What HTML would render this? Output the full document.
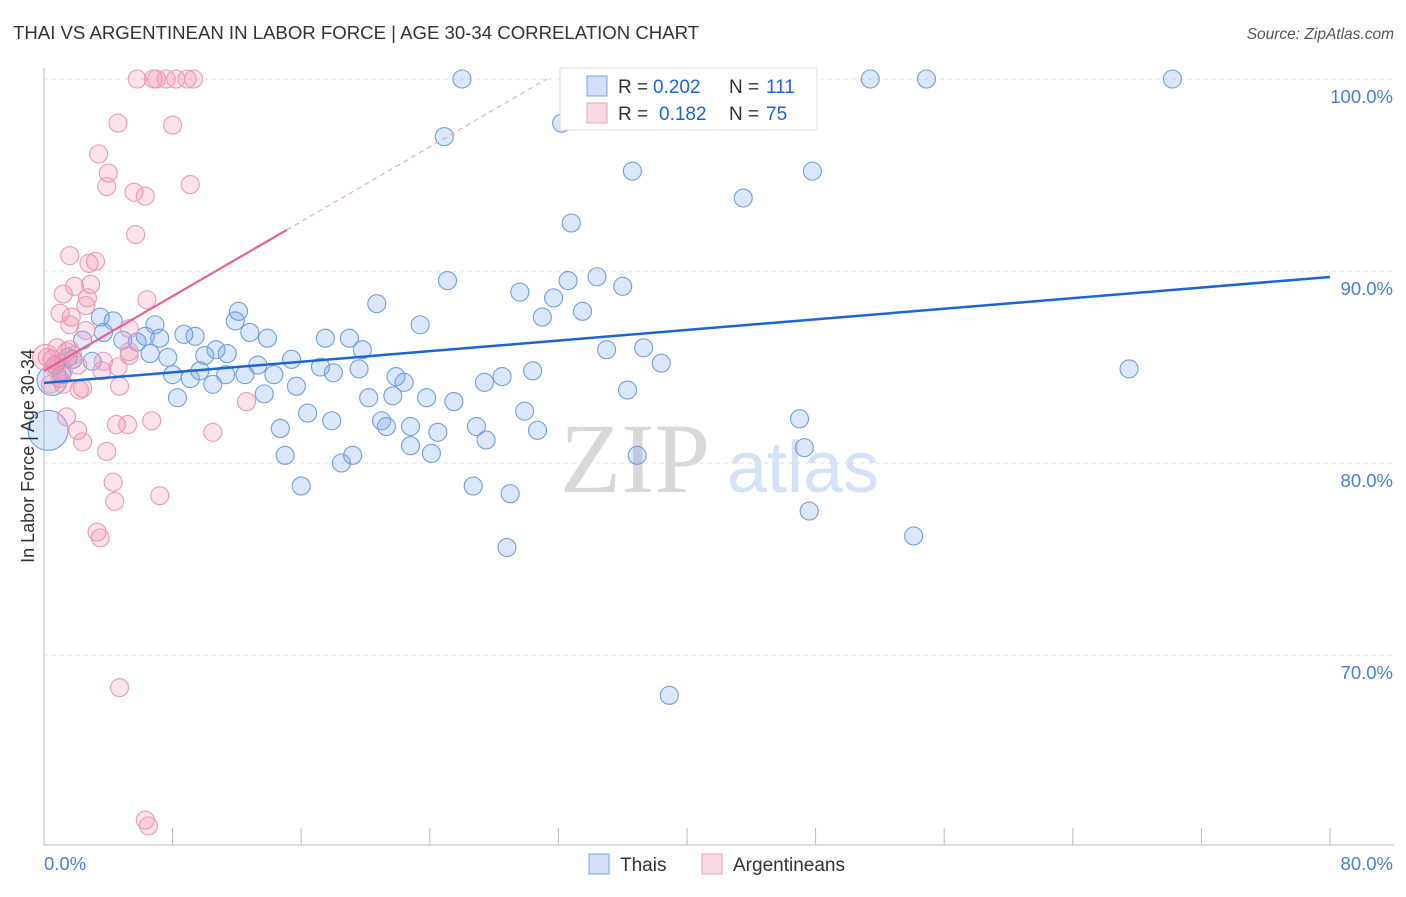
<!DOCTYPE html>
<html><head><meta charset="utf-8"><style>
body{margin:0;background:#fff;font-family:"Liberation Sans",sans-serif}
</style></head><body>
<svg id="chart" width="1406" height="892" xmlns="http://www.w3.org/2000/svg" font-family="Liberation Sans, sans-serif">
<text x="13" y="39" font-size="18.6" fill="#333">THAI VS ARGENTINEAN IN LABOR FORCE | AGE 30-34 CORRELATION CHART</text>
<text x="1394" y="39" font-size="15.5" fill="#555" text-anchor="end" font-style="italic">Source: ZipAtlas.com</text>
<text x="635" y="492" font-size="100" fill="#d8d8d8" font-family="Liberation Serif, serif" text-anchor="middle">ZIP</text>
<text x="803" y="492" font-size="72" fill="#d3e2f6" text-anchor="middle">atlas</text>
<g id="grid"></g>
<g id="axes"></g>
<g id="pts"></g>
<g id="lines"></g>
<text transform="translate(34,456) rotate(-90)" font-size="18" fill="#333" text-anchor="middle">In Labor Force | Age 30-34</text>
<g>
<rect x="560" y="68" width="257" height="62" fill="#fff" stroke="#ddd"/>
<rect x="587" y="76" width="20" height="20" fill="rgba(100,150,230,0.3)" stroke="#7aa6e6"/>
<text x="618" y="93" font-size="19" fill="#333">R =</text>
<text x="653" y="93" font-size="19" fill="#1a66d6">0.202</text>
<text x="729" y="93" font-size="19" fill="#333">N =</text>
<text x="766" y="93" font-size="19" fill="#1a66d6">111</text>
<rect x="587" y="103" width="20" height="20" fill="rgba(240,130,160,0.3)" stroke="#eea0b8"/>
<text x="618" y="120" font-size="19" fill="#333">R =</text>
<text x="659" y="120" font-size="19" fill="#1a66d6">0.182</text>
<text x="729" y="120" font-size="19" fill="#333">N =</text>
<text x="766" y="120" font-size="19" fill="#1a66d6">75</text>
</g>
<g>
<rect x="589" y="854" width="20" height="20" fill="rgba(100,150,230,0.3)" stroke="#7aa6e6"/>
<text x="620" y="871" font-size="19" fill="#333">Thais</text>
<rect x="702" y="854" width="20" height="20" fill="rgba(240,130,160,0.3)" stroke="#eea0b8"/>
<text x="733" y="871" font-size="19" fill="#333">Argentineans</text>
</g>
</svg>
<script>
const yTicks=[100,90,80,70];
const xTicks=[0,8,16,24,32,40,48,56,64,72,80];
const blueX=[26.0,41.6,51.4,54.9,70.2,24.9,32.2,36.6,47.8,43.5,32.8,25.1,34.4,32.6,36.0,29.6,31.7,20.7,31.0,33.5,23.4,12.1,11.9,6.9,4.3,3.5,12.8,13.9,8.7,9.4,6.3,4.9,7.2,2.4,3.7,5.8,17.5,19.0,19.8,35.0,37.3,10.7,10.0,11.4,6.6,7.7,3.0,1.8,1.5,15.4,13.3,9.7,11.3,12.5,14.3,17.2,18.0,19.6,21.9,22.4,8.0,9.1,10.5,15.7,13.7,8.3,20.2,21.7,23.8,25.5,27.4,28.5,30.4,36.3,38.4,67.5,16.4,17.9,21.0,21.3,22.8,24.5,26.9,27.5,29.9,30.7,22.8,24.1,14.7,15.0,36.9,47.0,47.3,19.2,18.5,16.0,26.7,29.0,47.6,54.1,28.8,38.9,0.5,0.25,0.7,1.1];
const blueY=[100,100,100,100,100,97.0,97.7,95.2,95.2,93.8,92.5,89.5,89.7,89.5,89.2,88.9,88.6,88.3,87.6,87.9,87.2,87.9,87.4,87.2,87.4,87.6,86.8,86.5,86.7,86.6,86.6,86.4,86.5,86.4,86.8,86.3,86.5,86.5,85.9,85.9,86.0,85.9,85.6,85.7,85.7,85.5,85.3,85.4,85.5,85.4,85.1,84.8,84.6,84.6,84.6,85.0,84.7,84.9,84.5,84.2,84.6,84.4,84.1,84.0,83.6,83.4,83.4,83.5,83.4,83.2,84.2,84.5,84.8,83.8,85.2,84.9,82.6,82.2,82.2,81.9,81.9,81.6,81.9,81.2,82.7,81.7,80.9,80.5,81.8,80.4,80.4,82.3,80.8,80.4,80.0,78.8,78.8,78.4,77.5,76.2,75.6,67.9,84.3,81.7,85.1,84.6];
const pinkX=[5.8,6.8,7.0,7.6,8.2,8.9,9.3,4.6,8.0,3.4,4.0,3.9,9.1,5.6,6.3,5.7,1.6,3.2,2.8,1.9,2.9,1.2,2.7,6.4,2.6,1.0,1.7,1.6,5.3,0.8,1.4,0.2,0.5,0.6,1.2,2.1,3.7,5.3,3.6,4.6,1.0,1.2,2.4,4.7,2.2,12.6,1.4,2.1,2.4,4.5,5.2,6.7,10.5,3.9,4.3,7.2,4.4,3.3,3.5,4.7,6.3,6.5,0.1,0.4,1.6,0.9,1.8,2.6,5.3];
const pinkY=[100,100,100,100,100,100,100,97.7,97.6,96.1,95.1,94.4,94.5,94.1,93.9,91.9,90.8,90.5,90.4,89.2,89.3,88.8,88.6,88.5,88.2,87.8,87.6,87.2,87.0,86.0,85.8,85.5,85.4,85.0,84.8,85.1,85.3,85.8,84.8,85.0,84.4,84.1,83.9,84.0,83.8,83.2,82.4,81.7,81.1,82.0,82.0,82.2,81.6,80.6,79.0,78.3,78.0,76.4,76.1,68.3,61.4,61.1,85.5,84.1,85.9,85.2,85.6,86.9,85.6];
const blueTrend=[84.17,89.69];
const pinkTrend=[84.8,0.486];
const NS="http://www.w3.org/2000/svg";
const X0=44,X1=1330,Y100=79,PX10=192;
const sx=v=>X0+(v/80)*(X1-X0);
const sy=v=>Y100+(100-v)*PX10/10;
function mk(tag,attrs,parent){const e=document.createElementNS(NS,tag);for(const k in attrs)e.setAttribute(k,attrs[k]);parent.appendChild(e);return e;}
const grid=document.getElementById('grid'),axes=document.getElementById('axes'),pts=document.getElementById('pts'),lines=document.getElementById('lines');
yTicks.forEach(t=>{
 const l=mk('line',{x1:X0,x2:1394,y1:sy(t),y2:sy(t),stroke:'#ddd','stroke-dasharray':'4,4'},grid);
 
 
 const tx=mk('text',{x:1393,y:sy(t)+24,'font-size':18.5,fill:'#4a7fd4','text-anchor':'end'},axes);
 tx.textContent=t.toFixed(1)+'%';
 
 
});
const ya=mk('line',{x1:X0,x2:X0,y1:68,y2:845,stroke:'#bbb'},axes);


const xa=mk('line',{x1:X0,x2:1394,y1:845,y2:845,stroke:'#bbb'},axes);


xTicks.forEach(t=>{
 const l=mk('line',{x1:sx(t),x2:sx(t),y1:828,y2:845,stroke:'#bbb'},axes);
 
 
});
[[0,'start',44],[80,'end',1393]].forEach(([v,a,x])=>{
 const tx=mk('text',{x:x,y:870,'font-size':18.5,fill:'#4a7fd4','text-anchor':a},axes);
 tx.textContent=v.toFixed(1)+'%';
 
 
});
blueX.forEach((x,i)=>{
 let r=9; if(i>=blueX.length-4&&i<blueX.length-2) r=(i==blueX.length-4)?15:20;
 const c=mk('circle',{cx:sx(x),cy:sy(blueY[i]),r:r,fill:'rgba(110,160,235,0.25)',stroke:'#6f9fe4','stroke-width':1.1},pts);
 
 
});
pinkX.forEach((x,i)=>{
 const r=(i==pinkX.length-7)?13:9;
 const c=mk('circle',{cx:sx(x),cy:sy(pinkY[i]),r:r,fill:'rgba(242,140,170,0.25)',stroke:'#eb9ab4','stroke-width':1.1},pts);
 
 
});
const bl=mk('line',{x1:sx(0),y1:sy(blueTrend[0]),x2:sx(80),y2:sy(blueTrend[1]),stroke:'#1a66d6','stroke-width':2.5},lines);


const pEnd=15.1, pTop=(100-pinkTrend[0])/pinkTrend[1];
const pl=mk('line',{x1:sx(0),y1:sy(pinkTrend[0]),x2:sx(pEnd),y2:sy(pinkTrend[0]+pinkTrend[1]*pEnd),stroke:'#e8638f','stroke-width':2.2},lines);


const pd=mk('line',{x1:sx(pEnd),y1:sy(pinkTrend[0]+pinkTrend[1]*pEnd),x2:sx(pTop),y2:sy(100),stroke:'#eaa0b8','stroke-width':1,'stroke-dasharray':'5,4'},lines);


</script>
</body></html>
